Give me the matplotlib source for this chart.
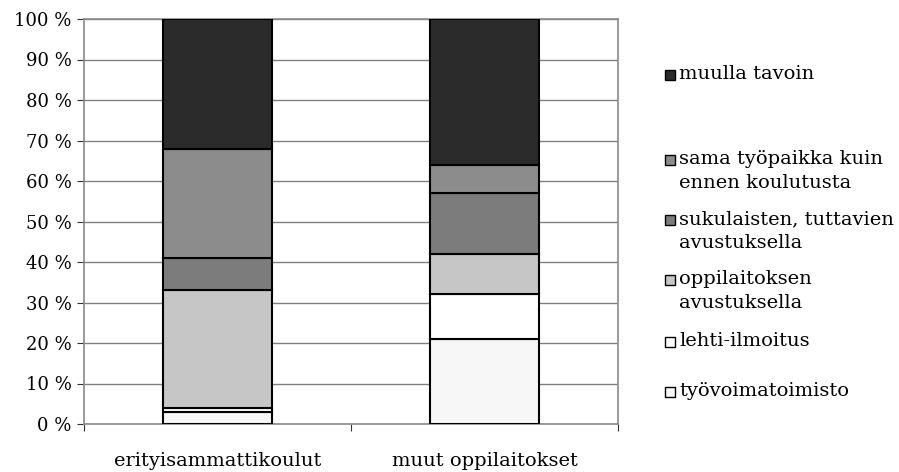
import numpy as np
import matplotlib
matplotlib.use('Agg')
import matplotlib.pyplot as plt
from matplotlib.patches import Rectangle

# data (percent of each group)
categories = ['erityisammattikoulut', 'muut oppilaitokset']
series = ['työvoimatoimisto', 'lehti-ilmoitus', 'oppilaitoksen\navustuksella',
          'sukulaisten, tuttavien\navustuksella', 'sama työpaikka kuin\nennen koulutusta',
          'muulla tavoin']
tyovoima = [3, 21]
lehti = [1, 11]
oppilaitos = [29, 10]
sukulaiset = [8, 15]
sama = [27, 7]
muulla = [32, 36]
values = [tyovoima, lehti, oppilaitos, sukulaiset, sama, muulla]
colors = ['#f7f7f7', '#ffffff', '#c6c6c6', '#7c7c7c', '#8c8c8c', '#2b2b2b']
yticks = np.arange(0, 101, 10)

plt.rcParams['font.family'] = ['DejaVu Serif']

W, H = 899, 472
fig = plt.figure(figsize=(W / 100, H / 100), dpi=100)
ax = fig.add_axes([84 / W, 1 - 424 / H, 534 / W, 405 / H])

x = np.arange(len(categories))
bottom = np.zeros(len(categories))
for vals, col in zip(values, colors):
    ax.bar(x, vals, width=0.41, bottom=bottom, color=col,
           edgecolor='black', linewidth=1.5, zorder=3)
    bottom += np.array(vals)

ax.set_xlim(-0.5, 1.5)
ax.set_ylim(0, 100)
ax.set_yticks(yticks)
ax.set_yticklabels(['%d %%' % v for v in yticks], fontsize=13)
ax.set_xticks([-0.5, 0.5, 1.5])
ax.set_xticklabels([])
ax.set_xticks(x, minor=True)
ax.set_xticklabels(categories, minor=True, fontsize=14)
ax.tick_params(axis='x', which='minor', length=0, pad=20)
ax.tick_params(axis='x', which='major', length=5, color='#333333')
ax.tick_params(axis='y', length=5, color='#333333', pad=4)
ax.yaxis.grid(True, color='#808080', linewidth=1, zorder=0)
for s in ax.spines.values():
    s.set_color('#8a8a8a')
    s.set_linewidth(1.2)

# legend drawn by hand to keep the uneven Excel spacing (y of first text line)
leg_rows = [392, 342, 280, 220, 160, 75]
for i, label in enumerate(series):
    row = leg_rows[i]
    fig.patches.append(Rectangle((665 / W, 1 - (row + 5) / H), 10 / W, 10 / H,
                                 transform=fig.transFigure, facecolor=colors[i],
                                 edgecolor='black', linewidth=1))
    fig.text(679 / W, 1 - (row - 10) / H, label, fontsize=14, va='top', ha='left',
             linespacing=1.45)

fig.savefig('out.png', dpi=100)
